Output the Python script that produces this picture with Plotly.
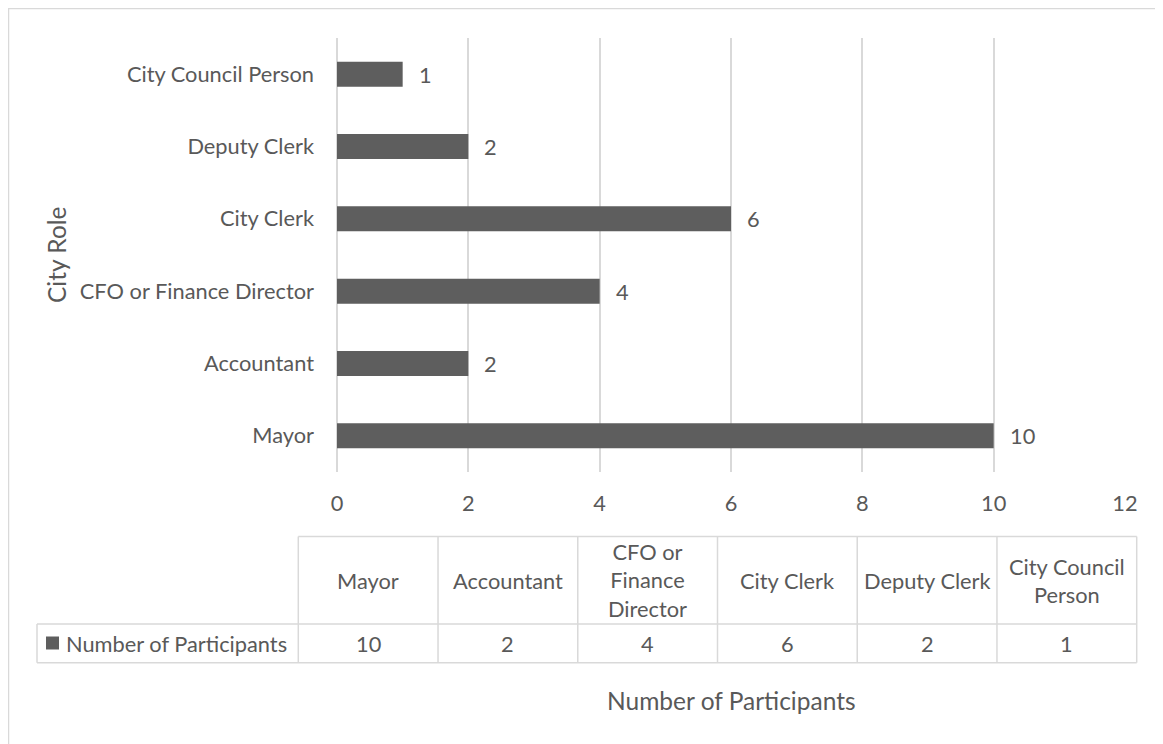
import plotly.graph_objects as go

# ---- data ----
roles = ["Mayor", "Accountant", "CFO or Finance Director", "City Clerk", "Deputy Clerk", "City Council Person"]
table_headers = ["Mayor", "Accountant", "CFO or<br>Finance<br>Director", "City Clerk", "Deputy Clerk", "City Council<br>Person"]
participants = [10, 2, 4, 6, 2, 1]
series_name = "Number of Participants"
x_ticks = [0, 2, 4, 6, 8, 10, 12]

# ---- layout constants (page pixels; page body has an 8px margin) ----
OFF = 8
W, H = 1163, 744
PL, PR, PT, PB = 337, 1125, 38, 472
FONT = "Lato"
TXT = "#595959"
GRID = "#d9d9d9"
BAR = "#5e5e5e"
FS = 21.8
FS_T = 24.5


def fx(px):
    return (px - PL) / (PR - PL)


def fy(py):
    return (PB - py) / (PB - PT)


fig = go.Figure()
fig.add_trace(go.Bar(
    y=roles, x=participants, orientation="h",
    marker=dict(color=BAR, line=dict(width=0)),
    name=series_name, showlegend=False, hoverinfo="x+y",
))

annotations = []
shapes = []

# data labels
for r, v in zip(roles, participants):
    annotations.append(dict(x=v, y=r, xref="x", yref="y", text=str(v), showarrow=False,
                            xanchor="left", yanchor="middle", xshift=14,
                            font=dict(family=FONT, size=FS, color=TXT)))

# axis titles
annotations.append(dict(x=fx(56), y=fy(255), xref="paper", yref="paper", text="City Role",
                        textangle=-90, showarrow=False, xanchor="center", yanchor="middle",
                        font=dict(family=FONT, size=FS_T, color=TXT)))
annotations.append(dict(x=fx(731), y=fy(700), xref="paper", yref="paper", text=series_name,
                        showarrow=False, xanchor="center", yanchor="middle",
                        font=dict(family=FONT, size=FS_T, color=TXT)))

# data table
TL, TR = 298.3, 1136.7
LBL_L = 37
HT, RT, RB = 536.5, 624, 662.7
cw = (TR - TL) / len(roles)
line = dict(color=GRID, width=1.5)


def seg(x0, y0, x1, y1):
    shapes.append(dict(type="line", xref="paper", yref="paper",
                       x0=fx(x0), y0=fy(y0), x1=fx(x1), y1=fy(y1), line=line))


seg(TL, HT, TR, HT)
seg(LBL_L, RT, TR, RT)
seg(LBL_L, RB, TR, RB)
seg(LBL_L, RT, LBL_L, RB)
for k in range(len(roles) + 1):
    seg(TL + k * cw, HT, TL + k * cw, RB)

for i, (h, v) in enumerate(zip(table_headers, participants)):
    cx = TL + cw * (i + 0.5)
    annotations.append(dict(x=fx(cx), y=fy((HT + RT) / 2), xref="paper", yref="paper", text=h,
                            showarrow=False, xanchor="center", yanchor="middle",
                            font=dict(family=FONT, size=FS, color=TXT)))
    annotations.append(dict(x=fx(cx), y=fy((RT + RB) / 2), xref="paper", yref="paper", text=str(v),
                            showarrow=False, xanchor="center", yanchor="middle",
                            font=dict(family=FONT, size=FS, color=TXT)))

# legend key + row label
shapes.append(dict(type="rect", xref="paper", yref="paper", x0=fx(46), x1=fx(59),
                   y0=fy(636.5), y1=fy(649.5), fillcolor=BAR, line=dict(width=0)))
annotations.append(dict(x=fx(289), y=fy((RT + RB) / 2), xref="paper", yref="paper", text=series_name,
                        showarrow=False, xanchor="right", yanchor="middle",
                        font=dict(family=FONT, size=FS, color=TXT)))

# outer chart border (right/bottom edges fall outside the window)
shapes.append(dict(type="rect", xref="paper", yref="paper", x0=fx(8.5), x1=fx(1200),
                   y0=fy(8.5), y1=fy(800), line=dict(color=GRID, width=1.5), fillcolor="rgba(0,0,0,0)"))

fig.update_layout(
    width=W, height=H, autosize=False,
    margin=dict(l=PL - OFF, r=W - (PR - OFF), t=PT - OFF, b=H - (PB - OFF), pad=0),
    paper_bgcolor="white", plot_bgcolor="white",
    bargap=0.654,
    font=dict(family=FONT, size=FS, color=TXT),
    xaxis=dict(range=[0, 12], tickvals=x_ticks, showgrid=True, gridcolor=GRID, gridwidth=1.5,
               zeroline=True, zerolinecolor=GRID, zerolinewidth=1.5, showline=False,
               ticks="", ticklabelstandoff=16, tickfont=dict(family=FONT, size=FS, color=TXT),
               fixedrange=True),
    yaxis=dict(type="category", categoryorder="array", categoryarray=roles,
               showgrid=False, zeroline=False, showline=False, ticks="", ticklabelstandoff=22,
               tickfont=dict(family=FONT, size=FS, color=TXT), fixedrange=True),
    annotations=annotations,
    shapes=shapes,
)

fig.write_html("out.html")
